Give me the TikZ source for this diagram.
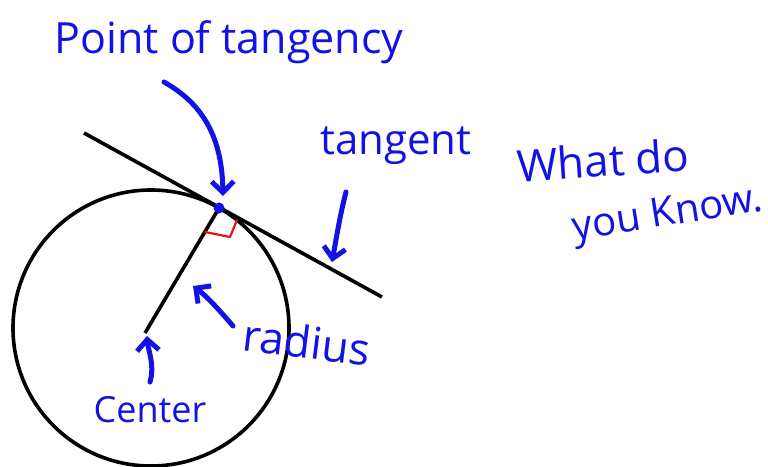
\documentclass[tikz,border=0pt]{standalone}
\usepackage{fontspec}
\setmainfont{Open Sans}
\usetikzlibrary{arrows.meta}
\definecolor{ink}{RGB}{18,18,230}
\definecolor{markred}{RGB}{235,20,20}
\tikzset{
  figline/.style={line width=3.6pt, black},
  note/.style={text=ink, inner sep=0pt},
  pointer/.style={ink, line width=5pt, line cap=round, line join=round,
    -{Straight Barb[length=11pt,width=22pt,line width=5pt]}},
}
\newcommand{\fsz}[1]{\fontsize{#1}{#1}\selectfont}
\begin{document}
\begin{tikzpicture}[x=1pt,y=-1pt]
\useasboundingbox (0,0) rectangle (768,466);
% geometry
\coordinate (O) at (151,328);
\coordinate (C) at (145,333);
\coordinate (T) at (219,208);
\coordinate (L1) at (84,133);
\coordinate (L2) at (382,297);
\draw[figline] (O) circle[radius=138];
\draw[figline] (L1) -- (L2);
\draw[figline] (C) -- (T);
\draw[markred, line width=2.2pt, line cap=round, line join=round] (205,232) -- (230,237) -- (237,220);
\fill[ink] (T) circle[radius=5.5];
% labels
\node[note, font=\fsz{43}] (pt) at (229,42) {Point of tangency};
\node[note, font=\fsz{42}] (tg) at (396,146) {tangent};
\node[note, font=\fsz{44}, rotate=4] (wd) at (603,160) {What do};
\node[note, font=\fsz{40}, rotate=9] (yk) at (668,216) {you Know.};
\node[note, font=\fsz{44}, rotate=-7] (rd) at (307,342) {radius};
\node[note, font=\fsz{36}] (ce) at (150,410) {Center};
% pointers
\coordinate (a1s) at (164,82);
\coordinate (a1e) at (223,196);
\draw[pointer] (a1s) .. controls (205,105) and (222,140) .. (a1e);
\coordinate (a2s) at (346,192);
\coordinate (a2e) at (332,262);
\draw[pointer] (a2s) .. controls (340,215) and (336,240) .. (a2e);
\coordinate (a3s) at (233,326);
\coordinate (a3e) at (193,286);
\draw[pointer] (a3s) .. controls (215,305) and (205,295) .. (a3e);
\coordinate (a4s) at (150,382);
\coordinate (a4e) at (147,336);
\draw[pointer] (a4s) .. controls (155,365) and (148,350) .. (a4e);
\end{tikzpicture}
\end{document}
